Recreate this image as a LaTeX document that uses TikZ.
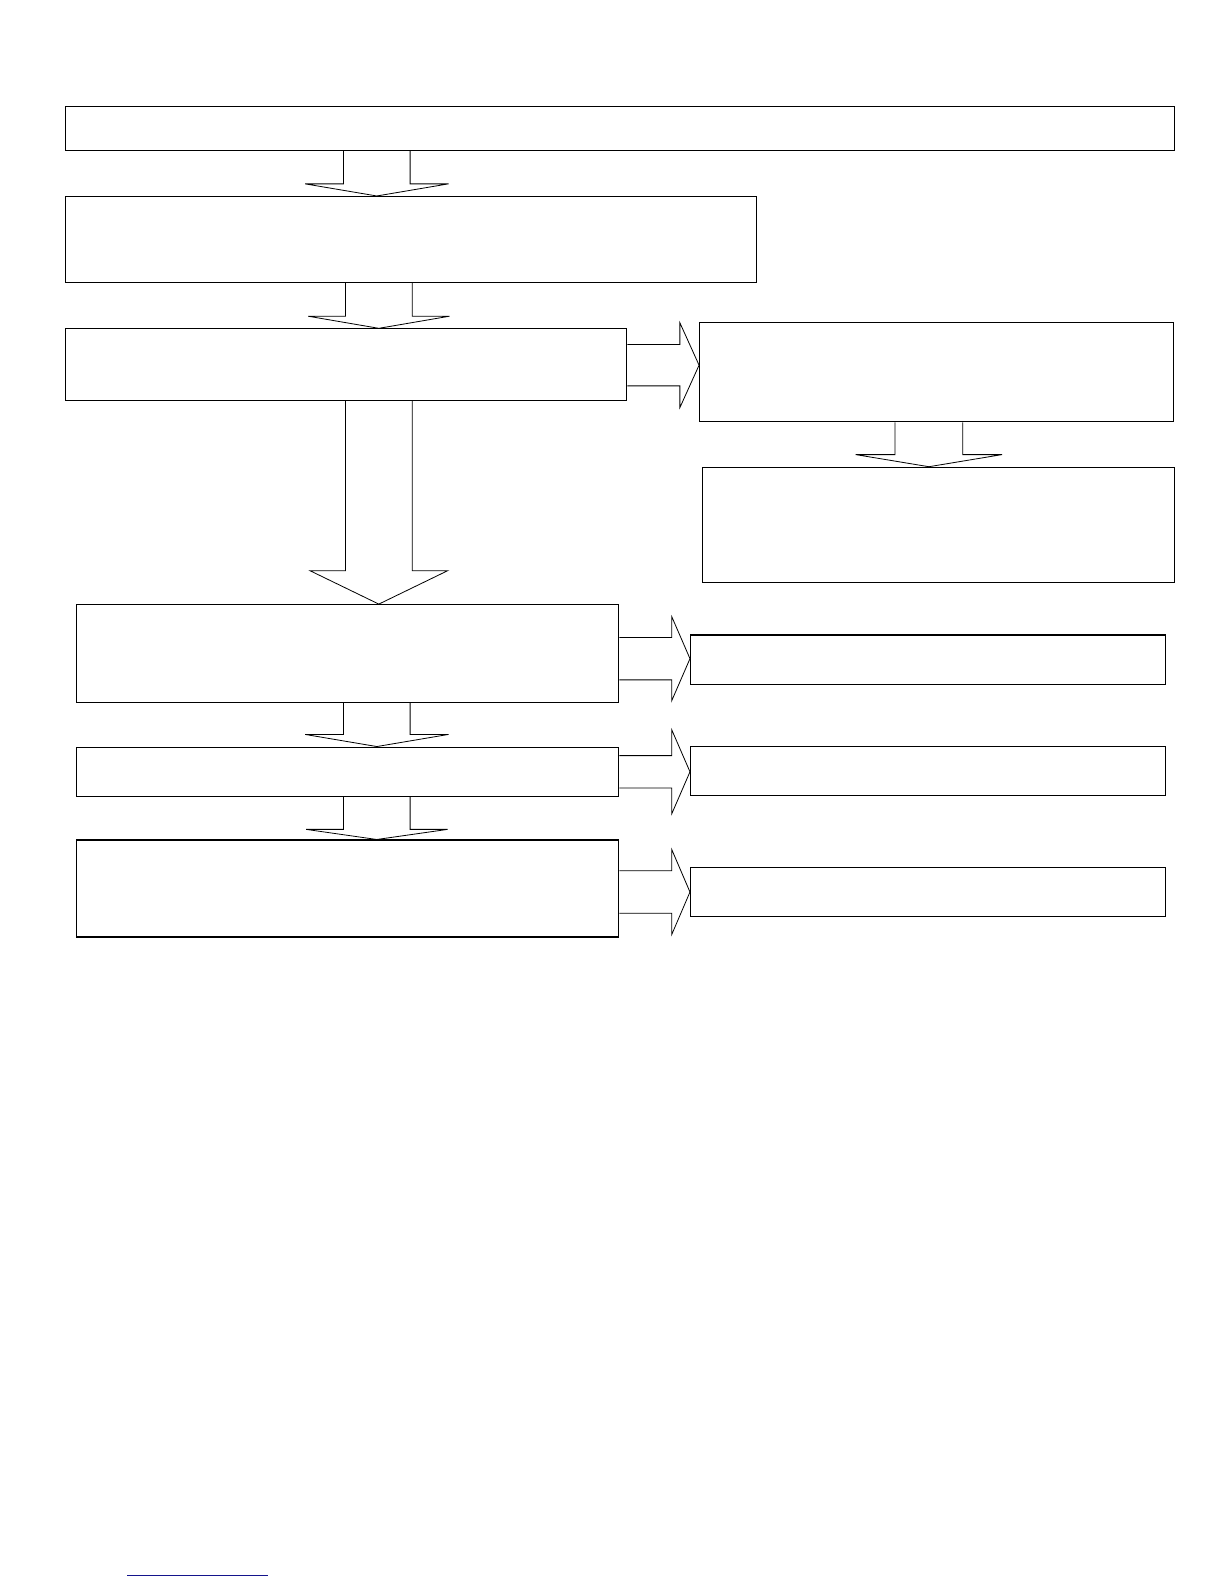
\documentclass[tikz,border=0pt]{standalone}
\usetikzlibrary{calc}
\tikzset{
  box/.style={draw=black, line width=1.1pt, rectangle, inner sep=0pt, anchor=north west, fill=white},
  blk/.style={draw=black, line width=0.8pt, line join=miter},
}
% down block arrow: #1 x-centre, #2 start anchor, #3 tip anchor, #4 half shaft, #5 half head, #6 head length
\newcommand{\dnarrow}[6]{%
  \draw[blk] let \p1=(#2), \p2=(#3) in
    ({(#1-#4)*1pt},\y1) -- ({(#1-#4)*1pt},{\y2+#6pt}) -- ({(#1-#5)*1pt},{\y2+#6pt})
    -- ({#1pt},\y2) -- ({(#1+#5)*1pt},{\y2+#6pt}) -- ({(#1+#4)*1pt},{\y2+#6pt})
    -- ({(#1+#4)*1pt},\y1);}
% right block arrow: #1 y-centre (picture units, downward), #2 start anchor, #3 tip anchor, #4 half shaft, #5 half head, #6 head length
\newcommand{\rtarrow}[6]{%
  \draw[blk] let \p1=(#2), \p2=(#3) in
    (\x1,{-(#1-#4)*1pt}) -- ({\x2-#6pt},{-(#1-#4)*1pt}) -- ({\x2-#6pt},{-(#1-#5)*1pt})
    -- (\x2,{-#1pt}) -- ({\x2-#6pt},{-(#1+#5)*1pt}) -- ({\x2-#6pt},{-(#1+#4)*1pt})
    -- (\x1,{-(#1+#4)*1pt});}
\begin{document}
\begin{tikzpicture}[x=1pt,y=-1pt]
\useasboundingbox (0,0) rectangle (1212,1568);
\fill[white] (0,0) rectangle (1212,1568);

% boxes
\node[box, minimum width=1098pt, minimum height=43pt] (b1) at (64,105) {};
\node[box, minimum width=684pt, minimum height=85pt] (b2) at (64,194) {};
\node[box, minimum width=556pt, minimum height=71pt] (b3) at (64,325) {};
\node[box, minimum width=469pt, minimum height=98pt] (b4) at (692,319) {};
\node[box, minimum width=467pt, minimum height=114pt] (b5) at (695,462) {};
\node[box, minimum width=537pt, minimum height=97pt] (b6) at (75,598) {};
\node[box, minimum width=470pt, minimum height=49pt] (b7) at (683,628) {};
\node[box, minimum width=537pt, minimum height=49pt] (b8) at (75,739) {};
\node[box, minimum width=470pt, minimum height=49pt] (b9) at (683,738) {};
\node[box, minimum width=537pt, minimum height=96pt] (b10) at (75,831) {};
\node[box, minimum width=470pt, minimum height=49pt] (b11) at (683,858) {};

% down block arrows
\dnarrow{373}{b1.south}{b2.north}{33}{71}{12}
\dnarrow{375}{b2.south}{b3.north}{33}{70}{12}
\dnarrow{375}{b3.south}{b6.north}{33}{68}{33}
\dnarrow{919.5}{b4.south}{b5.north}{33.5}{72.5}{12}
\dnarrow{373}{b6.south}{b8.north}{33}{71}{12}
\dnarrow{373}{b8.south}{b10.north}{33}{70}{10}

% right block arrows
\rtarrow{361.5}{b3.east}{b4.west}{20.5}{42}{19}
\rtarrow{652}{b6.east}{b7.west}{21}{41.5}{18}
\rtarrow{764}{b8.east}{b9.west}{16}{41.5}{18}
\rtarrow{883}{b10.east}{b11.west}{21}{42}{18}

% blue rule at bottom left
\draw[line width=1.3pt, draw={rgb,255:red,20;green,20;blue,140}] (126,1559.5) -- (265.5,1559.5);
\end{tikzpicture}
\end{document}
